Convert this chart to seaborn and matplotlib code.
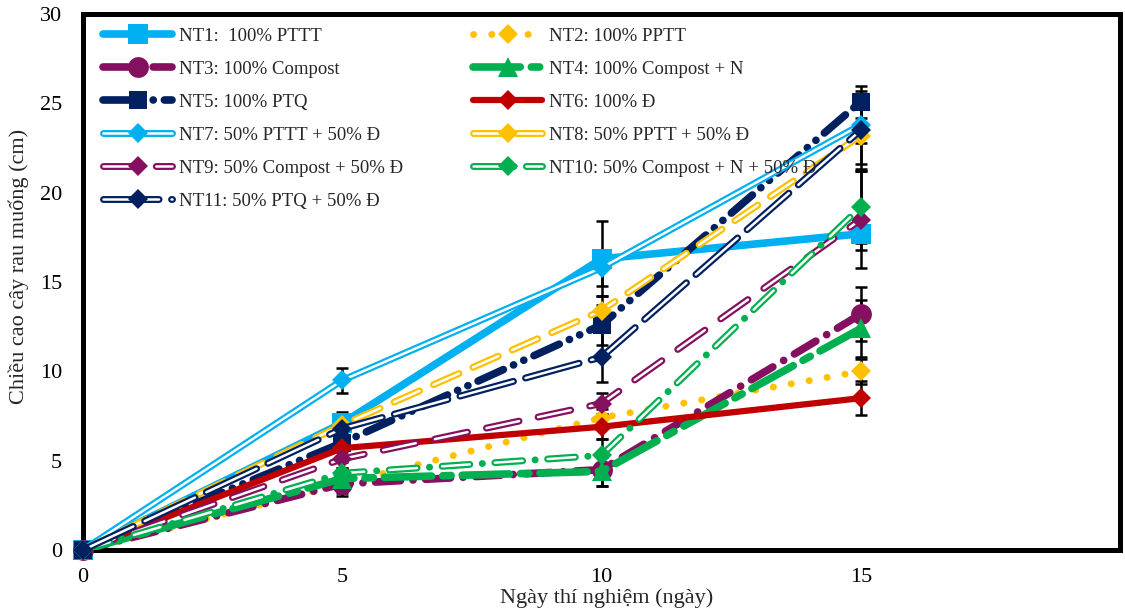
import matplotlib
matplotlib.use("Agg")
import matplotlib.pyplot as plt
import seaborn as sns
import pandas as pd
from matplotlib.lines import Line2D
from matplotlib.legend_handler import HandlerTuple

days = [0, 5, 10, 15]

labels = ["NT1:  100% PTTT", "NT2: 100% PPTT", "NT3: 100% Compost",
          "NT4: 100% Compost + N", "NT5: 100% PTQ", "NT6: 100% Đ",
          "NT7: 50% PTTT + 50% Đ", "NT8: 50% PPTT + 50% Đ",
          "NT9: 50% Compost + 50% Đ", "NT10: 50% Compost + N + 50% Đ",
          "NT11: 50% PTQ + 50% Đ"]

# mean height (cm)
nt1 = [0, 7.1, 16.3, 17.7]
nt2 = [0, 3.7, 7.4, 10.0]
nt3 = [0, 3.7, 4.5, 13.2]
nt4 = [0, 4.0, 4.4, 12.4]
nt5 = [0, 6.0, 12.6, 25.1]
nt6 = [0, 5.7, 6.9, 8.5]
nt7 = [0, 9.5, 15.8, 23.8]
nt8 = [0, 7.0, 13.4, 23.2]
nt9 = [0, 5.1, 8.2, 18.5]
nt10 = [0, 4.3, 5.3, 19.2]
nt11 = [0, 6.8, 10.8, 23.5]

# error bars
err1 = [0, 0.6, 2.1, 0.9]
err2 = [0, 0.5, 0.5, 0.7]
err3 = [0, 0.7, 0.9, 1.5]
err4 = [0, 0.6, 0.8, 1.6]
err5 = [0, 0.5, 1.1, 0.9]
err6 = [0, 0.5, 0.7, 0.95]
err7 = [0, 0.7, 1.0, 1.0]
err8 = [0, 0.6, 0.8, 1.6]
err9 = [0, 0.5, 0.6, 2.7]
err10 = [0, 0.6, 0.9, 2.0]
err11 = [0, 0.5, 1.4, 2.2]

values = [nt1, nt2, nt3, nt4, nt5, nt6, nt7, nt8, nt9, nt10, nt11]
errors = [err1, err2, err3, err4, err5, err6, err7, err8, err9, err10, err11]

blue = "#00B0F0"
gold = "#FFC000"
purple = "#85105F"
green = "#00B050"
navy = "#002060"
red = "#C00000"

# color, linewidth, dashes (outer), double?, inner dashes, marker, markersize
styles = [
    (blue, 5.5, None, False, None, "s", 14),
    (gold, 5.0, (0.1, 13), False, None, "D", 10),
    (purple, 5.5, (18, 9, 0.1, 9), False, None, "o", 15),
    (green, 5.5, (34, 8, 6, 8), False, None, "^", 15),
    (navy, 5.5, (20, 8, 0.1, 8, 0.1, 8), False, None, "s", 13),
    (red, 4.5, None, False, None, "D", 10),
    (blue, 5.0, None, True, None, "D", 10),
    (gold, 5.0, (20, 11), True, (20, 11), "D", 10),
    (purple, 5.0, (24, 14), True, (24, 14), "D", 10),
    (green, 5.0, (20, 9, 0.1, 9), True, (20, 18.1), "D", 10),
    (navy, 5.0, (40, 9), True, (40, 9), "D", 10),
]

plt.rcParams["lines.scale_dashes"] = False
sns.set_style("white")
plt.rcParams["font.family"] = ["Liberation Serif", "DejaVu Serif"]

fig = plt.figure(figsize=(11.25, 6.12), dpi=100)
ax = fig.add_axes([0.0738, 0.1013, 0.9218, 0.8757])

handles = []
for i, (vals, errs, lab, st) in enumerate(zip(values, errors, labels, styles)):
    color, lw, dash, double, inner, mk, ms = st
    df = pd.DataFrame({"day": days, "height": vals})
    z = 3 + i * 0.1
    ls = "-" if dash is None else (0, dash)
    ax.errorbar(days[1:], vals[1:], yerr=errs[1:], fmt="none", ecolor="black",
                elinewidth=1.8, capsize=4.5, capthick=1.8, zorder=2)
    sns.lineplot(data=df, x="day", y="height", color=color, linewidth=lw,
                 linestyle=ls, dash_capstyle="round", solid_capstyle="round",
                 ax=ax, zorder=z, legend=False, errorbar=None)
    parts = [Line2D([], [], color=color, lw=lw, linestyle=ls,
                    dash_capstyle="round", solid_capstyle="round")]
    if double:
        ls_in = "-" if inner is None else (0, inner)
        sns.lineplot(data=df, x="day", y="height", color="white", linewidth=1.8,
                     linestyle=ls_in, dash_capstyle="round", solid_capstyle="round",
                     ax=ax, zorder=z + 0.01, legend=False, errorbar=None)
        parts.append(Line2D([], [], color="white", lw=1.8, linestyle=ls_in,
                            dash_capstyle="round", solid_capstyle="round"))
    sns.lineplot(data=df, x="day", y="height", color=color, linestyle="none",
                 marker=mk, markersize=ms, markeredgecolor=color,
                 markeredgewidth=0, ax=ax, zorder=z + 0.02, legend=False,
                 errorbar=None, clip_on=False)
    parts.append(Line2D([], [], color=color, linestyle="none", marker=mk,
                        markersize=ms, markeredgewidth=0))
    handles.append(tuple(parts))

ax.set_xlim(0, 20)
ax.set_ylim(0, 30)
ax.set_xticks([0, 5, 10, 15])
ax.set_yticks([0, 5, 10, 15, 20, 25, 30])
ax.tick_params(axis="both", length=0, labelsize=16, colors="black")
ax.tick_params(axis="y", pad=15)
ax.tick_params(axis="x", pad=13)
for s in ax.spines.values():
    s.set_color("black")
    s.set_linewidth(3.6)

ax.set_xlabel("Ngày thí nghiệm (ngày)", fontsize=16)
ax.set_ylabel("Chiều cao cây rau muống (cm)", fontsize=16)
ax.xaxis.set_label_coords(0.505, -0.072)
ax.yaxis.set_label_coords(-0.052, 0.53)

# Excel fills the legend row by row
order = [0, 2, 4, 6, 8, 10, 1, 3, 5, 7, 9]
ax.legend([handles[k] for k in order], [labels[k] for k in order],
          handler_map={tuple: HandlerTuple(ndivide=1)},
          loc="upper left", bbox_to_anchor=(0.0193, 0.975), ncol=2,
          frameon=False, fontsize=13.5, numpoints=1, handlelength=3.7,
          handletextpad=0.37, labelspacing=0.85, columnspacing=3.7,
          borderpad=0, borderaxespad=0)

fig.savefig("out.png", dpi=100)
